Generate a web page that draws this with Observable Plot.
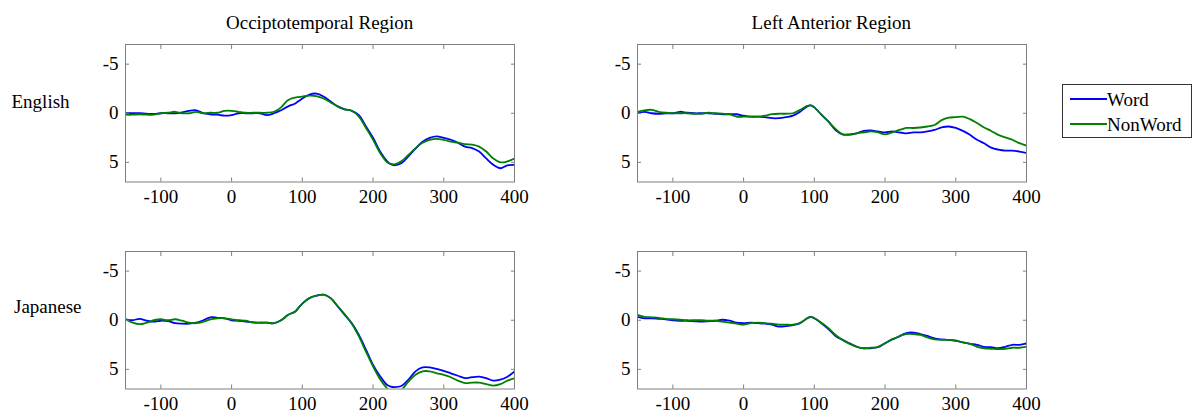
<!DOCTYPE html>
<html><head><meta charset="utf-8">
<script src="https://cdn.jsdelivr.net/npm/d3@7"></script>
<script src="https://cdn.jsdelivr.net/npm/@observablehq/plot@0.6"></script>
<style>
body{margin:0;background:#fff;}
#root{position:relative;width:1192px;height:412px;font-family:"Liberation Serif","Times New Roman",serif;color:#000;overflow:hidden;background:#fff;}
.abs{position:absolute;white-space:nowrap;font-size:19px;line-height:19px;}
</style></head><body><div id="root"></div>
<script>
// ---- data ----
const times = [-150,-140,-130,-120,-110,-100,-90,-80,-70,-60,-50,-40,-30,-20,-10,0,10,20,30,40,50,60,70,80,90,95,100,110,120,130,140,150,160,170,180,190,200,210,220,225,230,240,250,260,270,280,290,300,310,320,330,340,350,360,370,380,390,400];
const conditions = ["Word", "NonWord"];
const conditionColors = ["#0000ff", "#008000"];
const regions = ["Occiptotemporal Region", "Left Anterior Region"];
const languages = ["English", "Japanese"];
const xTicks = [-100, 0, 100, 200, 300, 400];
const yTicks = [-5, 0, 5];
const xDomain = [-150, 400];
const yDomain = [-7, 7];

const occEngWord = [0,0,0,0.05,0.07,0,0,0,-0.1,-0.25,-0.3,0,0.1,0.15,0.25,0.2,0,0,0,0,0.2,0,-0.3,-0.7,-1.0,-1.25,-1.5,-1.9,-2.0,-1.7,-1.2,-0.7,-0.4,-0.25,0.2,1.35,2.5,3.9,4.9,5.2,5.3,5.1,4.4,3.6,2.9,2.5,2.35,2.5,2.7,3.0,3.4,3.55,3.9,4.6,5.25,5.6,5.3,5.25];
const occEngNon = [0.15,0.15,0.1,0.15,0.15,0,-0.05,-0.15,0,0,-0.15,0,-0.05,-0.05,-0.25,-0.25,-0.15,-0.05,-0.05,-0.05,-0.05,-0.15,-0.6,-1.35,-1.6,-1.65,-1.7,-1.8,-1.75,-1.5,-1.1,-0.7,-0.4,-0.25,0.35,1.5,2.7,4.05,5.0,5.15,5.2,4.9,4.25,3.55,3.0,2.7,2.6,2.7,2.9,3.0,3.15,3.2,3.4,3.9,4.6,5.0,4.9,4.6];
const antEngWord = [0,-0.15,0,0.05,0,0,-0.15,-0.05,0,0,0,0.05,0.1,0.1,0.1,0.25,0.35,0.35,0.4,0.5,0.5,0.4,0.25,-0.15,-0.7,-0.8,-0.6,0.15,0.85,1.7,2.15,2.15,2.05,1.8,1.75,1.85,1.95,1.85,1.95,2.0,2.05,1.95,1.95,1.85,1.7,1.45,1.35,1.5,1.8,2.2,2.7,3.05,3.5,3.7,3.8,3.8,3.9,4.05];
const antEngNon = [-0.15,-0.3,-0.35,-0.15,-0.05,0,0,0,0.05,0.05,-0.05,0,0.05,0.1,0.35,0.35,0.35,0.35,0.25,0.1,0.05,0.05,0,-0.35,-0.75,-0.8,-0.6,0.15,0.85,1.6,2.15,2.2,2.05,1.95,1.85,1.95,2.15,1.95,1.7,1.6,1.5,1.5,1.45,1.35,1.2,0.7,0.45,0.4,0.35,0.6,1.0,1.45,1.8,2.2,2.45,2.7,3.05,3.3];
const occJpnWord = [-0.1,0,-0.15,0.05,0.15,0.05,0.1,0.3,0.35,0.35,0.25,0,-0.3,-0.25,-0.2,0,0.05,0.15,0.2,0.25,0.25,0.3,0,-0.55,-0.9,-1.3,-1.7,-2.25,-2.5,-2.6,-2.25,-1.4,-0.55,0.3,1.5,3.0,4.55,5.7,6.6,6.75,6.8,6.7,6.05,5.2,4.8,4.8,4.95,5.15,5.4,5.65,5.9,5.8,5.75,5.9,6.15,6.05,5.75,5.2];
const occJpnNon = [-0.1,0.25,0.4,0.25,0,-0.1,0,-0.1,0.05,0.25,0.3,0.15,-0.1,-0.2,-0.2,-0.1,0,0.05,0.25,0.25,0.25,0.3,0,-0.55,-0.9,-1.3,-1.7,-2.25,-2.5,-2.6,-2.25,-1.45,-0.6,0.35,1.65,3.2,4.7,6.0,6.95,7.25,7.4,7.1,6.25,5.55,5.2,5.2,5.4,5.55,5.8,6.15,6.4,6.35,6.35,6.5,6.65,6.5,6.15,5.9];
const antJpnWord = [-0.35,-0.2,-0.2,-0.15,-0.1,0,0.05,0.05,0.1,0.15,0.1,0.05,-0.05,0.05,0.25,0.3,0.25,0.3,0.35,0.45,0.65,0.6,0.5,0.3,-0.2,-0.35,-0.2,0.3,0.9,1.6,2.0,2.35,2.7,2.85,2.85,2.75,2.35,1.95,1.65,1.45,1.3,1.25,1.4,1.6,1.85,1.95,2.0,2.1,2.25,2.4,2.5,2.7,2.75,2.85,2.7,2.5,2.5,2.35];
const antJpnNon = [-0.55,-0.35,-0.3,-0.25,-0.15,-0.1,-0.05,0,0,0,0.05,0.05,0.15,0.25,0.35,0.45,0.3,0.25,0.3,0.35,0.45,0.45,0.45,0.25,-0.2,-0.35,-0.2,0.25,0.8,1.5,2.0,2.4,2.7,2.85,2.8,2.7,2.35,1.95,1.65,1.5,1.4,1.4,1.5,1.75,1.95,2.0,2.0,2.05,2.25,2.4,2.7,2.85,2.9,2.95,2.9,2.8,2.8,2.7];

// ---- layout ----
const root = document.getElementById("root");
const FONT = '"Liberation Serif","Times New Roman",serif';
const PW = 389, PH = 137.5;
const ML = 60, MR = 12, MT = 10, MB = 40;
const frameColor = "#7f7f7f";
const fmt = d => String(d);

function panel(word, non, left, top) {
  const rows = [];
  times.forEach((t, i) => rows.push({t, v: word[i], cond: conditions[0]}));
  times.forEach((t, i) => rows.push({t, v: non[i], cond: conditions[1]}));
  const p = Plot.plot({
    width: PW + ML + MR, height: PH + MT + MB,
    marginLeft: ML, marginRight: MR, marginTop: MT, marginBottom: MB,
    style: {fontFamily: FONT, fontSize: "19px", color: "#000", background: "transparent", overflow: "visible"},
    x: {domain: xDomain},
    y: {domain: yDomain, reverse: true},
    color: {domain: conditions, range: conditionColors},
    marks: [
      Plot.line(rows, {x: "t", y: "v", z: "cond", stroke: "cond", strokeWidth: 1.8, curve: "catmull-rom", clip: true}),
      Plot.frame({stroke: frameColor}),
      Plot.axisX(xTicks, {tickSize: -4, stroke: frameColor, fill: "none", label: null}),
      Plot.axisX(xTicks, {anchor: "top", tickSize: -4, stroke: frameColor, fill: "none", label: null}),
      Plot.axisX(xTicks, {tickSize: 0, tickPadding: 7.5, tickFormat: fmt, label: null, fill: "#000"}),
      Plot.axisY(yTicks, {tickSize: -4, stroke: frameColor, fill: "none", label: null}),
      Plot.axisY(yTicks, {anchor: "right", tickSize: -4, stroke: frameColor, fill: "none", label: null}),
      Plot.axisY(yTicks, {tickSize: 0, tickPadding: 7, tickFormat: fmt, label: null, fill: "#000"})
    ]
  });
  p.style.position = "absolute";
  p.style.left = (left - ML) + "px";
  p.style.top = (top - MT) + "px";
  root.append(p);
}

panel(occEngWord, occEngNon, 125.4, 44);
panel(antEngWord, antEngNon, 637.3, 44);
panel(occJpnWord, occJpnNon, 125.4, 250.7);
panel(antJpnWord, antJpnNon, 637.3, 250.7);

function label(text, x, y, align) {
  const d = document.createElement("div");
  d.className = "abs";
  d.textContent = text;
  d.style.top = y + "px";
  if (align === "center") { d.style.left = x + "px"; d.style.transform = "translateX(-50%)"; }
  else d.style.left = x + "px";
  root.append(d);
}
label(regions[0], 319.7, 13, "center");
label(regions[1], 831.3, 13, "center");
label(languages[0], 11.5, 92, "left");
label(languages[1], 14, 297, "left");

// legend
const lg = document.createElement("div");
lg.style.cssText = "position:absolute;left:1062px;top:84px;width:128px;height:52px;border:1px solid #333;background:#fff;";
conditions.forEach((c, i) => {
  const ln = document.createElement("div");
  ln.style.cssText = `position:absolute;left:7px;top:${12.5 + i * 25}px;width:37px;height:2px;background:${conditionColors[i]};`;
  lg.append(ln);
  const tx = document.createElement("div");
  tx.className = "abs";
  tx.textContent = c;
  tx.style.left = "44px";
  tx.style.top = (4.5 + i * 25) + "px";
  lg.append(tx);
});
root.append(lg);
</script></body></html>
